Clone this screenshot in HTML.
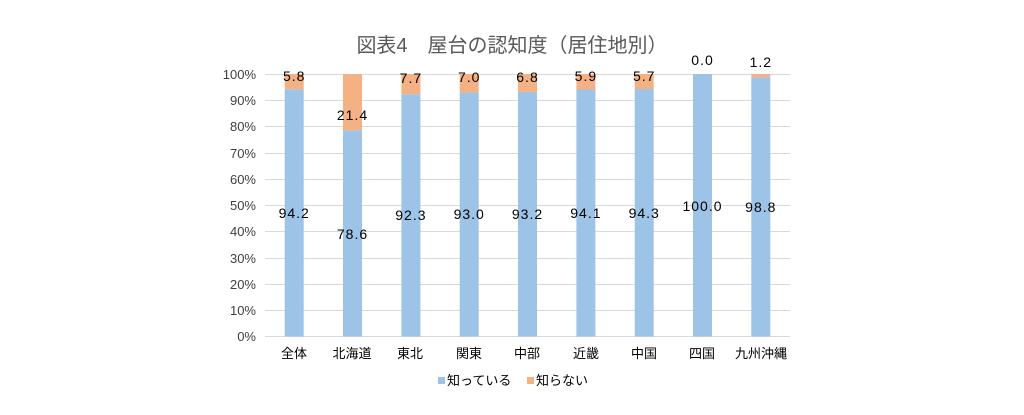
<!DOCTYPE html>
<html><head><meta charset="utf-8"><style>
html,body{margin:0;padding:0;background:#fff;}
svg{display:block;}
.t{font-family:"Liberation Sans Narrow","Liberation Sans","Noto Sans CJK JP",sans-serif;}
.j{font-family:"Liberation Sans","Noto Sans CJK JP",sans-serif;}
</style></head><body>
<svg width="1024" height="415" viewBox="0 0 1024 415" xmlns="http://www.w3.org/2000/svg">
<rect width="1024" height="415" fill="#fff"/>
<text x="512" y="52" text-anchor="middle" class="j" font-size="20" fill="#595959">図表4　屋台の認知度（居住地別）</text>
<g stroke="#d9d9d9" stroke-width="1">
<line x1="265" x2="790" y1="74.5" y2="74.5"/>
<line x1="265" x2="790" y1="100.5" y2="100.5"/>
<line x1="265" x2="790" y1="126.5" y2="126.5"/>
<line x1="265" x2="790" y1="153.5" y2="153.5"/>
<line x1="265" x2="790" y1="179.5" y2="179.5"/>
<line x1="265" x2="790" y1="205.5" y2="205.5"/>
<line x1="265" x2="790" y1="231.5" y2="231.5"/>
<line x1="265" x2="790" y1="258.5" y2="258.5"/>
<line x1="265" x2="790" y1="284.5" y2="284.5"/>
<line x1="265" x2="790" y1="310.5" y2="310.5"/>
<line x1="265" x2="790" y1="336.5" y2="336.5"/>
</g>
<g class="t" font-size="13" fill="#404040" text-anchor="end">
<text x="256" y="79">100%</text><text x="256" y="105">90%</text><text x="256" y="131">80%</text>
<text x="256" y="158">70%</text><text x="256" y="184">60%</text><text x="256" y="210">50%</text>
<text x="256" y="236">40%</text><text x="256" y="263">30%</text><text x="256" y="289">20%</text>
<text x="256" y="315">10%</text><text x="256" y="341">0%</text>
</g>
<g fill="#9dc3e6">
<rect x="284.7" y="89.2" width="19" height="247.3"/>
<rect x="343.0" y="130.2" width="19" height="206.3"/>
<rect x="401.4" y="94.2" width="19" height="242.3"/>
<rect x="459.7" y="92.4" width="19" height="244.1"/>
<rect x="518.0" y="91.9" width="19" height="244.6"/>
<rect x="576.4" y="89.5" width="19" height="247.0"/>
<rect x="634.7" y="89.0" width="19" height="247.5"/>
<rect x="693.0" y="74" width="19" height="262.5"/>
<rect x="751.3" y="77.2" width="19" height="259.3"/>
</g>
<g fill="#f4b183">
<rect x="284.7" y="74" width="19" height="15.2"/>
<rect x="343.0" y="74" width="19" height="56.2"/>
<rect x="401.4" y="74" width="19" height="20.2"/>
<rect x="459.7" y="74" width="19" height="18.4"/>
<rect x="518.0" y="74" width="19" height="17.9"/>
<rect x="576.4" y="74" width="19" height="15.5"/>
<rect x="634.7" y="74" width="19" height="15.0"/>
<rect x="751.3" y="74" width="19" height="3.2"/>
</g>
<g class="t" font-size="14" fill="#000" text-anchor="middle" letter-spacing="1">
<text x="294.2" y="218">94.2</text>
<text x="352.5" y="239">78.6</text>
<text x="410.9" y="220">92.3</text>
<text x="469.2" y="219">93.0</text>
<text x="527.5" y="219">93.2</text>
<text x="585.9" y="218">94.1</text>
<text x="644.2" y="218">94.3</text>
<text x="702.5" y="211">100.0</text>
<text x="760.8" y="212">98.8</text>
<text x="294.2" y="81">5.8</text>
<text x="352.5" y="120">21.4</text>
<text x="410.9" y="83">7.7</text>
<text x="469.2" y="82">7.0</text>
<text x="527.5" y="82">6.8</text>
<text x="585.9" y="81">5.9</text>
<text x="644.2" y="81">5.7</text>
<text x="702.5" y="65">0.0</text>
<text x="760.8" y="67">1.2</text>
</g>
<g class="j" font-size="13" fill="#000" text-anchor="middle">
<text x="294" y="358">全体</text><text x="352" y="358">北海道</text><text x="410" y="358">東北</text>
<text x="469" y="358">関東</text><text x="527" y="358">中部</text><text x="586" y="358">近畿</text>
<text x="644" y="358">中国</text><text x="702" y="358">四国</text><text x="761" y="358">九州沖縄</text>
</g>
<rect x="438" y="377" width="7" height="7" fill="#9dc3e6"/>
<text x="447" y="385" class="j" font-size="13" fill="#000">知っている</text>
<rect x="527" y="377" width="7" height="7" fill="#f4b183"/>
<text x="536" y="385" class="j" font-size="13" fill="#000">知らない</text>
</svg>
</body></html>
